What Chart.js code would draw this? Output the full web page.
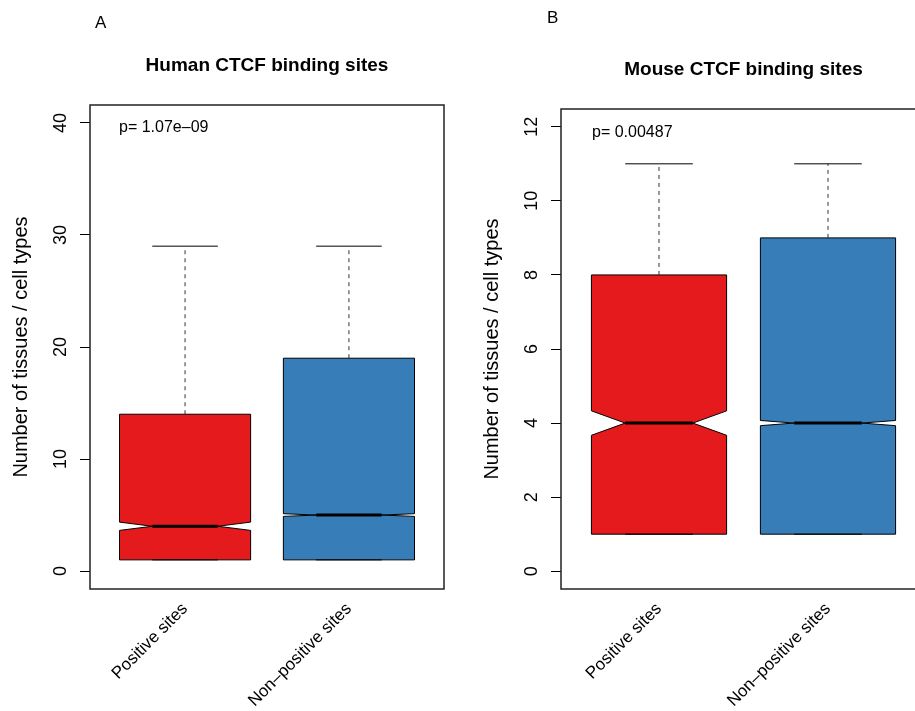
<!DOCTYPE html>
<html><head><meta charset="utf-8">
<script src="https://cdn.jsdelivr.net/npm/chart.js@4/dist/chart.umd.min.js"></script>
<style>
html,body{margin:0;padding:0;background:#fff;overflow:hidden;width:915px;height:711px;position:relative;}
#ca{position:absolute;left:0;top:0;}
#cb{position:absolute;left:471px;top:0;}
</style></head><body>
<canvas id="ca" width="460" height="711"></canvas>
<canvas id="cb" width="460" height="711"></canvas>
<script>
// ---------- data ----------
const categories = ['Positive sites', 'Non\u2013positive sites'];
const boxColors = ['#E41A1C', '#377EB8'];
const yLabel = 'Number of tissues / cell types';

// Panel A: human
const humanTitle = 'Human CTCF binding sites';
const humanP = 'p= 1.07e\u201309';
const humanLower = [1, 1];
const humanQ1 = [1, 1];
const humanMedian = [4, 5];
const humanQ3 = [14, 19];
const humanUpper = [29, 29];
const humanNotchLow = [3.63, 4.88];
const humanNotchHigh = [4.37, 5.12];
const humanTicks = [0, 10, 20, 30, 40];

// Panel B: mouse
const mouseTitle = 'Mouse CTCF binding sites';
const mouseP = 'p= 0.00487';
const mouseLower = [1, 1];
const mouseQ1 = [1, 1];
const mouseMedian = [4, 4];
const mouseQ3 = [8, 9];
const mouseUpper = [11, 11];
const mouseNotchLow = [3.67, 3.93];
const mouseNotchHigh = [4.33, 4.07];
const mouseTicks = [0, 2, 4, 6, 8, 10, 12];

Chart.defaults.font.family = '"Liberation Sans", Arial, Helvetica, sans-serif';
Chart.defaults.color = '#000';

const boxPlugin = {
  id: 'boxDeco',
  afterDatasetsDraw(chart, args, o) {
    const ctx = chart.ctx;
    const ys = chart.scales.y;
    const Y = v => ys.getPixelForValue(v);
    const bars = chart.getDatasetMeta(0).data;
    ctx.save();
    bars.forEach((bar, i) => {
      const cx = bar.x, hw = bar.width / 2;
      const q1 = Y(o.q1[i]), q3 = Y(o.q3[i]), med = Y(o.median[i]);
      const nl = Y(o.notchLow[i]), nh = Y(o.notchHigh[i]);
      // notch cut-outs
      ctx.fillStyle = '#fff';
      [-1, 1].forEach(s => {
        ctx.beginPath();
        ctx.moveTo(cx + s * (hw + 1), nl);
        ctx.lineTo(cx + s * hw, nl);
        ctx.lineTo(cx + s * hw / 2, med);
        ctx.lineTo(cx + s * hw, nh);
        ctx.lineTo(cx + s * (hw + 1), nh);
        ctx.closePath();
        ctx.fill();
      });
      // outline
      ctx.strokeStyle = '#000';
      ctx.lineWidth = 1;
      ctx.beginPath();
      ctx.moveTo(cx - hw, q1);
      ctx.lineTo(cx - hw, nl);
      ctx.lineTo(cx - hw / 2, med);
      ctx.lineTo(cx - hw, nh);
      ctx.lineTo(cx - hw, q3);
      ctx.lineTo(cx + hw, q3);
      ctx.lineTo(cx + hw, nh);
      ctx.lineTo(cx + hw / 2, med);
      ctx.lineTo(cx + hw, nl);
      ctx.lineTo(cx + hw, q1);
      ctx.closePath();
      ctx.stroke();
      // whiskers
      ctx.strokeStyle = '#333';
      ctx.setLineDash([4, 4]);
      ctx.beginPath();
      ctx.moveTo(cx, q3); ctx.lineTo(cx, Y(o.upper[i]));
      ctx.moveTo(cx, q1); ctx.lineTo(cx, Y(o.lower[i]));
      ctx.stroke();
      ctx.setLineDash([]);
      ctx.strokeStyle = '#000';
      ctx.beginPath();
      ctx.moveTo(cx - hw / 2, Y(o.upper[i])); ctx.lineTo(cx + hw / 2, Y(o.upper[i]));
      ctx.moveTo(cx - hw / 2, Y(o.lower[i])); ctx.lineTo(cx + hw / 2, Y(o.lower[i]));
      ctx.stroke();
      // median
      ctx.lineWidth = 3;
      ctx.beginPath();
      ctx.moveTo(cx - hw / 2, med); ctx.lineTo(cx + hw / 2, med);
      ctx.stroke();
    });
    // plot frame
    const a = chart.chartArea;
    ctx.lineWidth = 1.5;
    ctx.strokeStyle = '#222';
    ctx.strokeRect(a.left, a.top, a.right - a.left, a.bottom - a.top);
    // texts
    ctx.fillStyle = '#000';
    ctx.textBaseline = 'middle';
    ctx.textAlign = 'left';
    ctx.font = '16px "Liberation Sans", Arial, sans-serif';
    ctx.fillText(o.pText, a.left + o.pDx, a.top + o.pDy);
    ctx.font = '17px "Liberation Sans", Arial, sans-serif';
    ctx.fillText(o.letter, o.letterX, o.letterY);
    ctx.restore();
  }
};

function makeChart(id, p) {
  return new Chart(document.getElementById(id), {
    type: 'bar',
    data: {
      datasets: [{
        data: categories.map((c, i) => ({ x: i + 1, y: [p.q1[i], p.q3[i]] })),
        backgroundColor: boxColors,
        borderWidth: 0,
        categoryPercentage: 0.8,
        barPercentage: 1.0
      }]
    },
    options: {
      responsive: false,
      animation: false,
      devicePixelRatio: 1,
      layout: { padding: { left: 0, right: p.padRight, top: 0, bottom: 0 } },
      plugins: {
        legend: { display: false },
        tooltip: { enabled: false },
        title: {
          display: true, text: p.title, fullSize: false, color: '#000',
          font: { size: 19, weight: 'bold' },
          padding: { top: p.titleTop, bottom: p.titleBottom }
        },
        boxDeco: p
      },
      scales: {
        x: {
          type: 'linear', min: 0.42, max: 2.58, offset: false,
          afterBuildTicks: s => { s.ticks = categories.map((c, i) => ({ value: i + 1 })); },
          ticks: {
            minRotation: 45, maxRotation: 45, autoSkip: false, padding: 10, color: '#000',
            font: { size: 17 },
            callback: (v, idx) => categories[idx]
          },
          grid: { display: false, drawTicks: false },
          border: { display: false },
          afterFit: s => { s.height = 711 - p.areaBottom; }
        },
        y: {
          type: 'linear', min: p.yMin, max: p.yMax,
          afterBuildTicks: s => { s.ticks = p.ticks.map(v => ({ value: v })); },
          ticks: {
            minRotation: 90, maxRotation: 90, crossAlign: 'center', padding: 9, color: '#000',
            font: { size: 18 }
          },
          grid: { drawOnChartArea: false, drawTicks: true, tickLength: 10, color: '#000', lineWidth: 1 },
          border: { display: false },
          title: { display: true, text: yLabel, color: '#000', font: { size: 20 }, padding: { top: 9, bottom: 0 } },
          afterFit: s => { s.width = 90; }
        }
      }
    },
    plugins: [boxPlugin]
  });
}

makeChart('ca', {
  title: humanTitle, pText: humanP, letter: 'A', letterX: 95, letterY: 23,
  pDx: 29, pDy: 23,
  q1: humanQ1, q3: humanQ3, median: humanMedian, lower: humanLower, upper: humanUpper,
  notchLow: humanNotchLow, notchHigh: humanNotchHigh, ticks: humanTicks,
  yMin: -1.6, yMax: 41.6, padRight: 16, titleTop: 54.6, titleBottom: 27.6, areaBottom: 589
});
makeChart('cb', {
  title: mouseTitle, pText: mouseP, letter: 'B', letterX: 76, letterY: 18,
  pDx: 31, pDy: 24,
  q1: mouseQ1, q3: mouseQ3, median: mouseMedian, lower: mouseLower, upper: mouseUpper,
  notchLow: mouseNotchLow, notchHigh: mouseNotchHigh, ticks: mouseTicks,
  yMin: -0.48, yMax: 12.48, padRight: 5, titleTop: 58.6, titleBottom: 27.6, areaBottom: 589
});
</script>
</body></html>
